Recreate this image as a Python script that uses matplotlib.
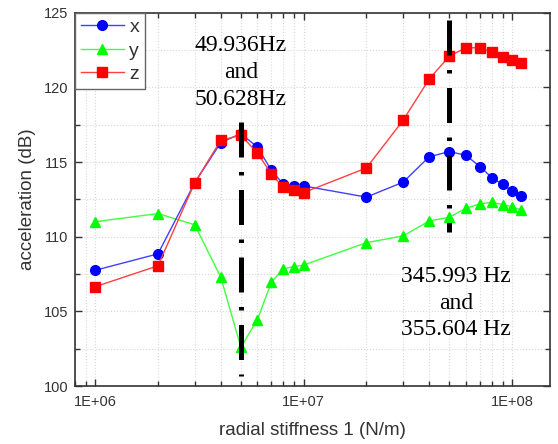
import numpy as np
import matplotlib.pyplot as plt
from matplotlib.ticker import LogLocator, FuncFormatter, MultipleLocator

# radial stiffness values (N/m)
stiffness = [1e6, 2e6, 3e6, 4e6, 5e6, 6e6, 7e6, 8e6, 9e6, 1e7,
             2e7, 3e7, 4e7, 5e7, 6e7, 7e7, 8e7, 9e7, 1e8, 1.1e8]

# acceleration levels (dB)
acc_x = [107.75, 108.85, 113.6, 116.3, 116.9, 116.0, 114.45, 113.5, 113.4, 113.4,
         112.65, 113.65, 115.35, 115.7, 115.45, 114.7, 113.95, 113.5, 113.05, 112.7]
acc_y = [111.0, 111.55, 110.8, 107.3, 102.6, 104.45, 106.95, 107.85, 108.0, 108.1,
         109.6, 110.05, 111.05, 111.3, 111.9, 112.2, 112.3, 112.15, 112.0, 111.8]
acc_z = [106.65, 108.05, 113.6, 116.45, 116.8, 115.6, 114.2, 113.3, 113.1, 112.95,
         114.6, 117.8, 120.55, 122.1, 122.65, 122.65, 122.35, 122.05, 121.85, 121.6]

# resonance markers: stiffness position and vertical extent (dB)
marker_pos = [5e6, 5e7]
marker_top = [117.7, 124.5]
marker_bottom = [100.7, 110.3]
marker_text = ["49.936Hz\nand\n50.628Hz", "345.993 Hz\nand\n355.604 Hz"]
text_pos = [(5.0e6, 121.0), (5.38e7, 105.55)]

plt.rcParams['font.family'] = ['Liberation Sans', 'DejaVu Sans']

fig = plt.figure(figsize=(5.58, 4.44), dpi=100)
ax = fig.add_axes([0.1344, 0.1306, 0.8513, 0.8408])

ax.plot(stiffness, acc_x, color='#4040ff', lw=1.0, marker='o', ms=7,
        mfc='#0000ff', mec='#0000ff', label='x', zorder=4)
ax.plot(stiffness, acc_y, color='#40ff40', lw=1.0, marker='^', ms=7.5,
        mfc='#00ff00', mec='#00ff00', label='y', zorder=3)
ax.plot(stiffness, acc_z, color='#ff4040', lw=1.0, marker='s', ms=6.5,
        mfc='#ff0000', mec='#ff0000', label='z', zorder=5)

for xp, top, bot in zip(marker_pos, marker_top, marker_bottom):
    ax.plot([xp, xp], [top, bot], color='black', lw=3.6,
            linestyle=(0, (7, 2.9, 0.7, 2.9)), solid_capstyle='butt',
            dash_capstyle='butt', zorder=6)

for txt, (tx, ty) in zip(marker_text, text_pos):
    ax.text(tx, ty, txt, ha='center', va='center', fontsize=17,
            family=['Liberation Serif', 'DejaVu Serif'], linespacing=1.35, zorder=7)

ax.set_xscale('log')
ax.set_xlim(8e5, 1.52e8)
ax.set_ylim(100, 125)
ax.xaxis.set_major_locator(LogLocator(base=10, numticks=10))
ax.xaxis.set_minor_locator(LogLocator(base=10, subs=np.arange(2, 10), numticks=20))
ax.xaxis.set_major_formatter(FuncFormatter(lambda v, p: "1E+%02d" % round(np.log10(v))))
ax.yaxis.set_major_locator(MultipleLocator(5))
ax.yaxis.set_minor_locator(MultipleLocator(2.5))

ax.grid(True, which='both', color='#d8d8d8', linestyle=':', lw=0.8)
ax.tick_params(which='both', direction='in', top=True, right=True,
               color='#333333', labelsize=10.5, labelcolor='#333333')
ax.tick_params(which='major', length=5, width=1)
ax.tick_params(which='minor', length=3.5, width=1)
ax.tick_params(axis='x', which='major', pad=6.5)
ax.tick_params(axis='y', which='major', pad=5)
for s in ax.spines.values():
    s.set_color('#333333')
    s.set_linewidth(1.2)

ax.set_xlabel('radial stiffness 1 (N/m)', fontsize=13.5, color='#333333', labelpad=9)
ax.set_ylabel('acceleration (dB)', fontsize=13.5, color='#333333', labelpad=5)

leg = ax.legend(loc='upper left', fontsize=14, fancybox=False, borderaxespad=0,
                handlelength=2.2, handletextpad=0.3, labelspacing=0.3,
                borderpad=0.3, framealpha=1, labelcolor='#333333')
leg.get_frame().set_edgecolor('#666666')
leg.get_frame().set_linewidth(1.0)

fig.savefig('out.png', dpi=100)
